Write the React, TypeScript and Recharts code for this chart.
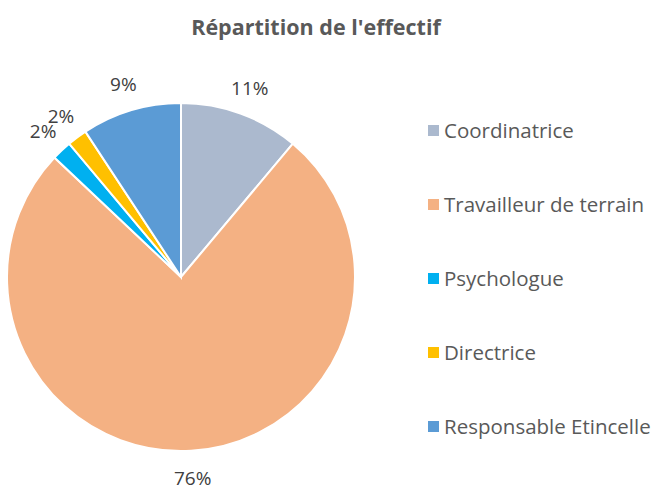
import { PieChart, Pie, Cell, Legend } from 'recharts';

const categories = ['Coordinatrice', 'Travailleur de terrain', 'Psychologue', 'Directrice', 'Responsable Etincelle'];
const values = [6, 41, 1, 1, 5];
const colors = ['#ABB9CE', '#F4B183', '#00B0F0', '#FFC000', '#5B9BD5'];

const data = categories.map((name, i) => ({ name, value: values[i] }));

const FONT = '"Open Sans", sans-serif';
const RAD = Math.PI / 180;

interface LabelProps {
  cx: number;
  cy: number;
  midAngle: number;
  outerRadius: number;
  percent: number;
}

function renderLabel({ cx, cy, midAngle, outerRadius, percent }: LabelProps) {
  const r = outerRadius + 27;
  const x = cx + r * Math.cos(-midAngle * RAD);
  const y = cy + r * Math.sin(-midAngle * RAD);
  return (
    <text
      x={x}
      y={y}
      fill="#404040"
      fontSize={19}
      fontFamily={FONT}
      textAnchor="middle"
      dominantBaseline="central"
    >
      {`${Math.round(percent * 100)}%`}
    </text>
  );
}

function LegendContent() {
  return (
    <div style={{ fontFamily: FONT }}>
      {data.map((d, i) => (
        <div
          key={d.name}
          style={{ display: 'flex', alignItems: 'center', height: 74, color: '#595959', fontSize: 20.5 }}
        >
          <span
            style={{ width: 11, height: 11, background: colors[i], display: 'inline-block', marginRight: 5 }}
          />
          {d.name}
        </div>
      ))}
    </div>
  );
}

export default function App() {
  return (
    <div style={{ position: 'absolute', left: 0, top: 0, width: 656, height: 486, background: '#fff' }}>
      <PieChart width={656} height={486} margin={{ top: 0, right: 0, bottom: 0, left: 0 }}>
        <text
          x={316}
          y={26}
          textAnchor="middle"
          dominantBaseline="central"
          fill="#595959"
          fontSize={21.5}
          fontWeight="bold"
          fontFamily={FONT}
        >
          Répartition de l'effectif
        </text>
        <Pie
          data={data}
          dataKey="value"
          nameKey="name"
          cx={181}
          cy={277}
          outerRadius={174}
          startAngle={90}
          endAngle={-270}
          stroke="#fff"
          strokeWidth={2}
          label={renderLabel}
          labelLine={false}
          isAnimationActive={false}
        >
          {data.map((d, i) => (
            <Cell key={d.name} fill={colors[i]} />
          ))}
        </Pie>
        <Legend
          layout="vertical"
          content={<LegendContent />}
          wrapperStyle={{ left: 428, top: 93, width: 228 }}
        />
      </PieChart>
    </div>
  );
}
